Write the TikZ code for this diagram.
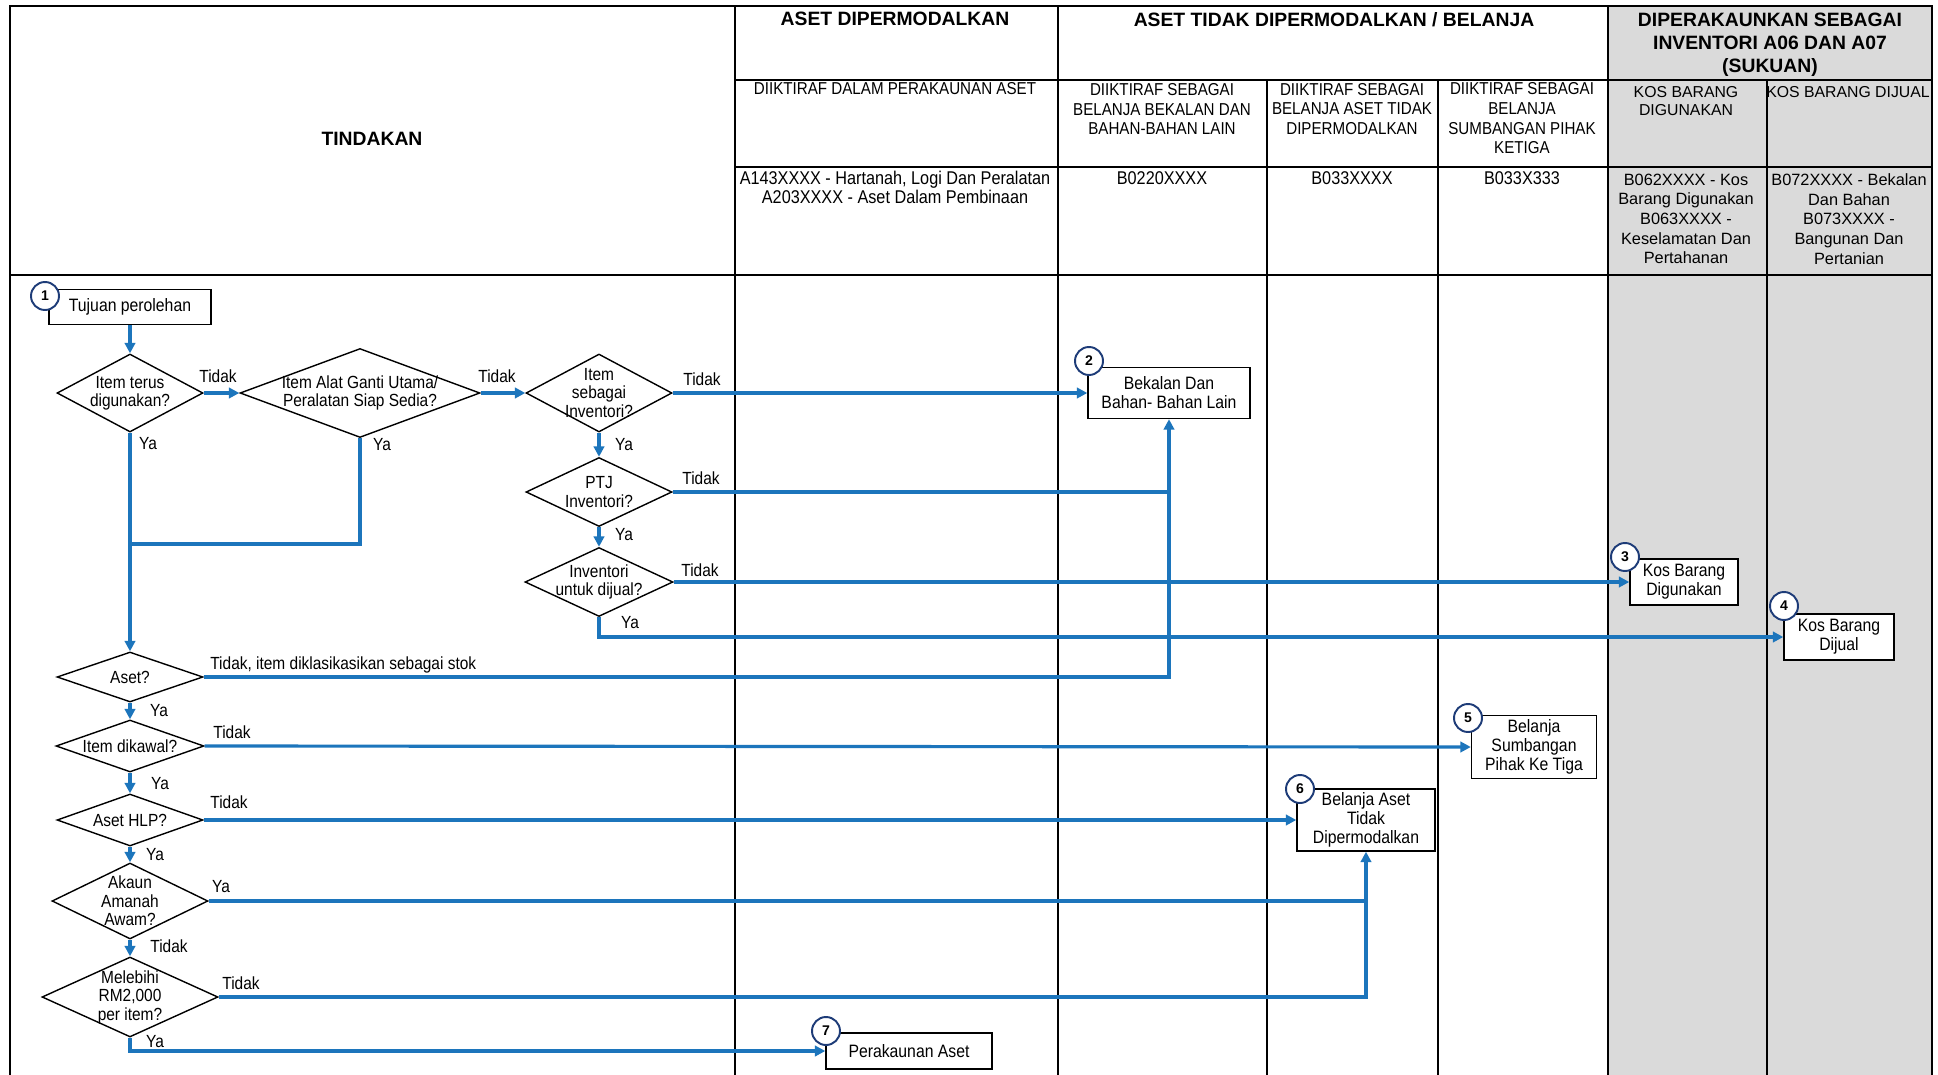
\documentclass[tikz,border=0pt]{standalone}
\usepackage{fontspec}
\setmainfont[FakeStretch=0.88]{Liberation Sans}
\newfontfamily\widefont{Liberation Sans}
\usetikzlibrary{shapes.geometric,arrows.meta}
\definecolor{flowblue}{RGB}{28,117,188}
\definecolor{numblue}{RGB}{30,60,120}
\definecolor{grayband}{RGB}{218,218,218}
\begin{document}
\begin{tikzpicture}[x=0.02cm,y=-0.02cm,
  grid/.style={draw=black,line width=0.8pt},
  hdr/.style={font=\widefont\bfseries\fontsize{11}{13}\selectfont,align=center,inner sep=0pt},
  sub/.style={font=\fontsize{9.8}{11.2}\selectfont,align=center,inner sep=0pt},
  code/.style={font=\fontsize{10.5}{10.8}\selectfont,align=center,inner sep=0pt},
  gsub/.style={font=\widefont\fontsize{9}{10.5}\selectfont,align=center,inner sep=0pt},
  gcode/.style={font=\widefont\fontsize{9.3}{11.2}\selectfont,align=center,inner sep=0pt},
  dia/.style={diamond,draw=black,line width=0.8pt,inner sep=0pt,fill=white},
  dtext/.style={font=\fontsize{10}{10.5}\selectfont,align=center,inner sep=0pt},
  box/.style={draw=black,line width=0.8pt,fill=white,align=center,inner sep=0pt,font=\fontsize{10.2}{10.8}\selectfont},
  numc/.style={circle,draw=numblue,line width=1.1pt,fill=white,minimum size=0.56cm,inner sep=0pt,font=\widefont\bfseries\fontsize{8}{8}\selectfont},
  flow/.style={draw=flowblue,line width=1.8pt},
  arr/.style={flow,-{Triangle[length=6pt,width=6pt]}},
  lbl/.style={font=\fontsize{10}{10}\selectfont,inner sep=0pt},
]
\useasboundingbox (0,0) rectangle (1938,1075);
\fill[white] (0,0) rectangle (1938,1075);
% gray band
\fill[grayband] (1608,6) rectangle (1932,1075);
% table grid
\draw[grid] (10,1075) -- (10,6) -- (1932,6) -- (1932,1075);
\draw[grid] (10,275) -- (1932,275);
\draw[grid] (735,80) -- (1932,80);
\draw[grid] (735,167) -- (1932,167);
\draw[grid] (735,6) -- (735,1075);
\draw[grid] (1058,6) -- (1058,1075);
\draw[grid] (1267,80) -- (1267,1075);
\draw[grid] (1438,80) -- (1438,1075);
\draw[grid] (1608,6) -- (1608,1075);
\draw[grid] (1767,80) -- (1767,1075);

% headers
\node[hdr] (hTind) at (372,139) {TINDAKAN};
\node[hdr] (hAD) at (895,19) {ASET DIPERMODALKAN};
\node[hdr] (hATD) at (1334,20) {ASET TIDAK DIPERMODALKAN / BELANJA};
\node[hdr] (hInv) at (1770,45) {DIPERAKAUNKAN SEBAGAI\\INVENTORI A06 DAN A07\\(SUKUAN)};
\node[sub] (s1) at (895,89) {DIIKTIRAF DALAM PERAKAUNAN ASET};
\node[sub] (s2) at (1162,109) {DIIKTIRAF SEBAGAI\\BELANJA BEKALAN DAN\\BAHAN-BAHAN LAIN};
\node[sub] (s3) at (1352,109) {DIIKTIRAF SEBAGAI\\BELANJA ASET TIDAK\\DIPERMODALKAN};
\node[sub] (s4) at (1522,118.5) {DIIKTIRAF SEBAGAI\\BELANJA\\SUMBANGAN PIHAK\\KETIGA};
\node[gsub] (s5) at (1686,101) {KOS BARANG\\DIGUNAKAN};
\node[gsub] (s6) at (1848,92) {KOS BARANG DIJUAL};
\node[code] (c1t) at (895,187.5) {A143XXXX - Hartanah, Logi Dan Peralatan\\A203XXXX - Aset Dalam Pembinaan};
\node[code] (c2t) at (1162,178) {B0220XXXX};
\node[code] (c3t) at (1352,178) {B033XXXX};
\node[code] (c4t) at (1522,178) {B033X333};
\node[gcode] (c5t) at (1686,219) {B062XXXX - Kos\\Barang Digunakan\\B063XXXX -\\Keselamatan Dan\\Pertahanan};
\node[gcode] (c6t) at (1849,219) {B072XXXX - Bekalan\\Dan Bahan\\B073XXXX -\\Bangunan Dan\\Pertanian};

% process boxes
\node[box,minimum width=3.24cm,minimum height=0.7cm] (n1) at (130,307) {Tujuan perolehan};
\node[box,minimum width=3.24cm,minimum height=1.02cm] (box2) at (1169,393) {Bekalan Dan\\Bahan- Bahan Lain};
\node[box,minimum width=2.16cm,minimum height=0.92cm] (box3) at (1684,582) {Kos Barang\\Digunakan};
\node[box,minimum width=2.2cm,minimum height=0.92cm] (box4) at (1839,637) {Kos Barang\\Dijual};
\node[box,minimum width=2.5cm,minimum height=1.26cm] (box5) at (1534,747) {Belanja\\Sumbangan\\Pihak Ke Tiga};
\node[box,minimum width=2.76cm,minimum height=1.24cm] (box6) at (1366,820) {Belanja Aset\\Tidak\\Dipermodalkan};
\node[box,minimum width=3.32cm,minimum height=0.72cm] (box7) at (909,1051) {Perakaunan Aset};

% decisions
\node[dia,minimum width=2.92cm,minimum height=1.56cm] (d1) at (130,393) {};
\node[dtext] (d1t) at (d1) {Item terus\\digunakan?};
\node[dia,minimum width=4.8cm,minimum height=1.78cm] (d2) at (360,393) {};
\node[dtext] (d2t) at (d2) {Item Alat Ganti Utama/\\Peralatan Siap Sedia?};
\node[dia,minimum width=2.92cm,minimum height=1.56cm] (d3) at (599,393) {};
\node[dtext] (d3t) at (d3) {Item\\sebagai\\Inventori?};
\node[dia,minimum width=2.92cm,minimum height=1.38cm] (d4) at (599,492) {};
\node[dtext] (d4t) at (d4) {PTJ\\Inventori?};
\node[dia,minimum width=2.96cm,minimum height=1.38cm] (d5) at (599,582) {};
\node[dtext] (d5t) at (d5) {Inventori\\untuk dijual?};
\node[dia,minimum width=2.92cm,minimum height=1.0cm] (aset) at (130,677) {};
\node[dtext] (asett) at (aset) {Aset?};
\node[dia,minimum width=2.96cm,minimum height=1.04cm] (dik) at (130,746) {};
\node[dtext] (dikt) at (dik) {Item dikawal?};
\node[dia,minimum width=2.92cm,minimum height=1.04cm] (hlp) at (130,820) {};
\node[dtext] (hlpt) at (hlp) {Aset HLP?};
\node[dia,minimum width=3.12cm,minimum height=1.52cm] (akaun) at (130,901) {};
\node[dtext] (akaunt) at (akaun) {Akaun\\Amanah\\Awam?};
\node[dia,minimum width=3.52cm,minimum height=1.6cm] (mel) at (130,997) {};
\node[dtext] (melt) at (mel) {Melebihi\\RM2,000\\per item?};

% numbered circles
\node[numc] (k1) at (45,296) {1};
\node[numc] (k2) at (1089,361) {2};
\node[numc] (k3) at (1625,557) {3};
\node[numc] (k4) at (1784,606) {4};
\node[numc] (k5) at (1468,718) {5};
\node[numc] (k6) at (1300,789) {6};
\node[numc] (k7) at (826,1031) {7};

% connectors
\coordinate (j1) at (130,544);
\draw[arr] (n1.south) -- (d1.north);
\draw[arr] (d1.east) -- (d2.west);
\draw[arr] (d2.east) -- (d3.west);
\draw[arr] (d3.east) -- (box2.west);
\draw[arr] (d3.south) -- (d4.north);
\draw[flow] (d4.east) -- (d4.east -| box2.south);
\draw[arr] (d4.south) -- (d5.north);
\draw[arr] (d5.east) -- (box3.west);
\draw[arr] (d5.south) |- (box4.west);
\draw[arr] (d1.south) -- (aset.north);
\draw[flow] (d2.south) |- (j1);
\draw[arr] (aset.east) -| (box2.south);
\draw[arr] (aset.south) -- (dik.north);
\draw[arr] (dik.east) -- (box5.west);
\draw[arr] (dik.south) -- (hlp.north);
\draw[arr] (hlp.east) -- (box6.west);
\draw[arr] (hlp.south) -- (akaun.north);
\draw[flow] (akaun.east) -- (akaun.east -| box6.south);
\draw[arr] (akaun.south) -- (mel.north);
\draw[arr] (mel.east) -| (box6.south);
\draw[arr] (mel.south) |- (box7.west);

% connector labels
\node[lbl] (l1) at (218,376) {Tidak};
\node[lbl] (l2) at (497,376) {Tidak};
\node[lbl] (l3) at (702,379) {Tidak};
\node[lbl] (l4) at (701,478) {Tidak};
\node[lbl] (l5) at (700,570) {Tidak};
\node[lbl] (l6) at (148,444) {Ya};
\node[lbl] (l7) at (382,445) {Ya};
\node[lbl] (l8) at (624,445) {Ya};
\node[lbl] (l9) at (624,535) {Ya};
\node[lbl] (l10) at (630,623) {Ya};
\node[lbl,anchor=west] (l11) at (210,665) {Tidak, item diklasikasikan sebagai stok};
\node[lbl] (l12) at (159,711) {Ya};
\node[lbl] (l13) at (232,732) {Tidak};
\node[lbl] (l14) at (160,784) {Ya};
\node[lbl] (l15) at (229,802) {Tidak};
\node[lbl] (l16) at (155,855) {Ya};
\node[lbl] (l17) at (221,887) {Ya};
\node[lbl] (l18) at (169,946) {Tidak};
\node[lbl] (l19) at (241,983) {Tidak};
\node[lbl] (l20) at (155,1042) {Ya};
\end{tikzpicture}
\end{document}
